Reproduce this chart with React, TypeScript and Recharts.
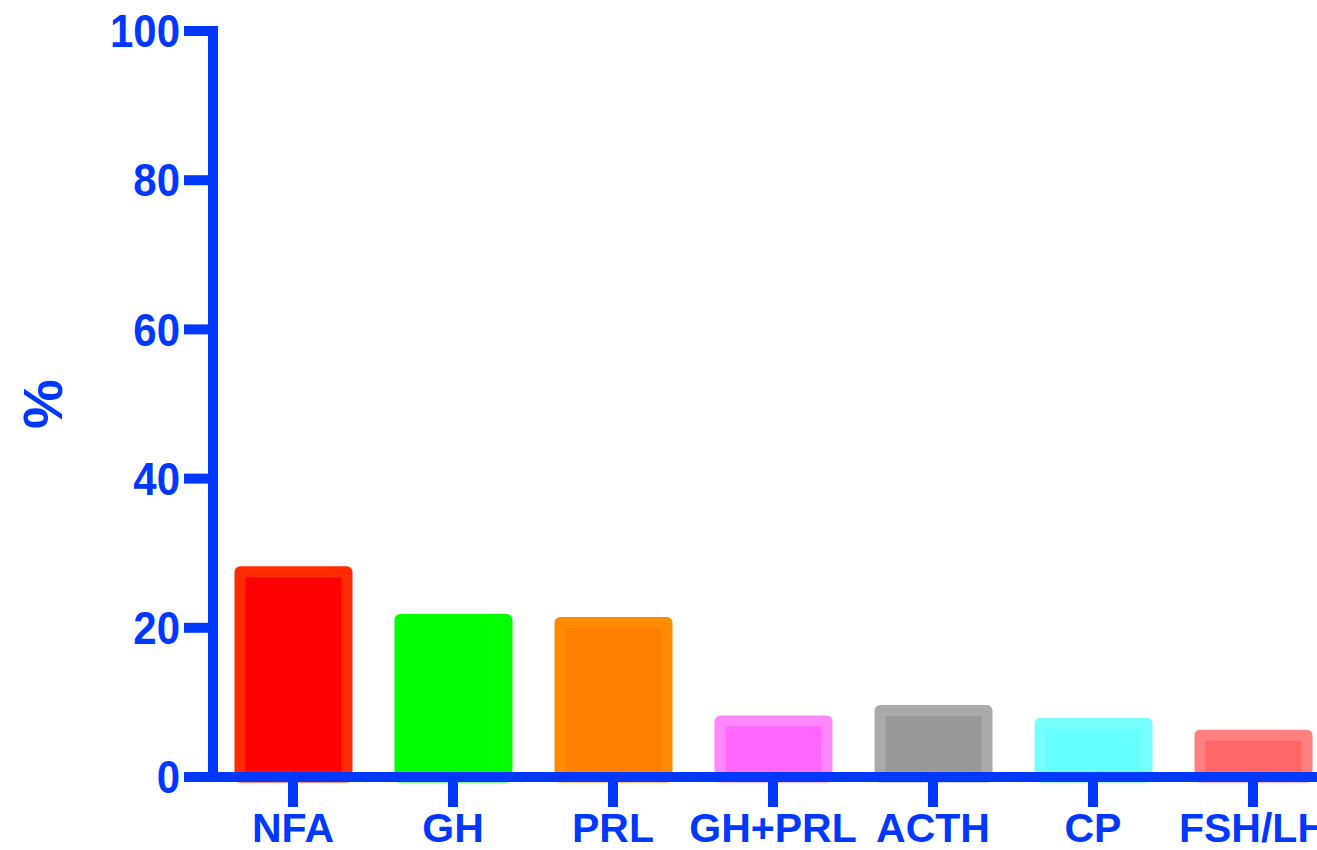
import { BarChart, Bar, XAxis, YAxis, Cell } from 'recharts';

const categories = ['NFA', 'GH', 'PRL', 'GH+PRL', 'ACTH', 'CP', 'FSH/LH'];
const percents = [27.5, 21.1, 20.7, 7.5, 8.9, 7.2, 5.6];
const fills = ['#FF0000', '#00FF00', '#FF8000', '#FF66FF', '#999999', '#66FFFF', '#FF6666'];
const strokes = ['#FF2B00', '#00FF00', '#FF8C00', '#FF88FF', '#AAAAAA', '#77FFFF', '#FF7F7F'];
const yTicks = [0, 20, 40, 60, 80, 100];

const BLUE = '#0038FF';
const FONT = '"Liberation Sans", Arial, sans-serif';

const data = categories.map((name, i) => ({ name, value: percents[i] }));

// y labels in the original are a bit taller than wide, so stretch them vertically
function YTick(props: any) {
  const { x, y, payload } = props;
  return (
    <text
      x={x}
      y={y}
      transform={`translate(${x},${y}) scale(1,1.1) translate(${-x},${-y})`}
      textAnchor="end"
      dominantBaseline="central"
      fill={BLUE}
      fontSize={42}
      fontWeight="bold"
      fontFamily={FONT}
    >
      {payload.value}
    </text>
  );
}

function PercentLabel(props: any) {
  const { viewBox } = props;
  const x = viewBox.x + 42;
  const y = viewBox.y + viewBox.height / 2;
  return (
    <text
      x={x}
      y={y}
      transform={`rotate(-90, ${x}, ${y})`}
      textAnchor="middle"
      dominantBaseline="central"
      fill={BLUE}
      fontSize={56}
      fontWeight="bold"
      fontFamily={FONT}
    >
      %
    </text>
  );
}

export default function App() {
  return (
    <div
      style={{
        position: 'absolute',
        left: 0,
        top: 0,
        width: 1317,
        height: 850,
        overflow: 'hidden',
        background: '#fff',
      }}
    >
      <BarChart
        width={1345}
        height={850}
        data={data}
        margin={{ top: 31, right: 12, bottom: 0, left: 0 }}
        barCategoryGap={0}
      >
        <Bar
          dataKey="value"
          barSize={107}
          strokeWidth={11}
          strokeLinejoin="round"
          isAnimationActive={false}
        >
          {data.map((d, i) => (
            <Cell key={d.name} fill={fills[i]} stroke={strokes[i]} />
          ))}
        </Bar>
        <XAxis
          dataKey="name"
          height={73}
          interval={0}
          tickSize={30}
          tickMargin={6}
          axisLine={{ stroke: BLUE, strokeWidth: 10, strokeLinecap: 'square' }}
          tickLine={{ stroke: BLUE, strokeWidth: 10 }}
          tick={{ fill: BLUE, fontSize: 41, fontWeight: 'bold', fontFamily: FONT }}
        />
        <YAxis
          width={213}
          domain={[0, 100]}
          ticks={yTicks}
          interval={0}
          tickSize={29}
          tickMargin={4}
          axisLine={{ stroke: BLUE, strokeWidth: 10, strokeLinecap: 'square' }}
          tickLine={{ stroke: BLUE, strokeWidth: 10 }}
          tick={<YTick />}
          label={{ content: PercentLabel }}
        />
      </BarChart>
    </div>
  );
}
